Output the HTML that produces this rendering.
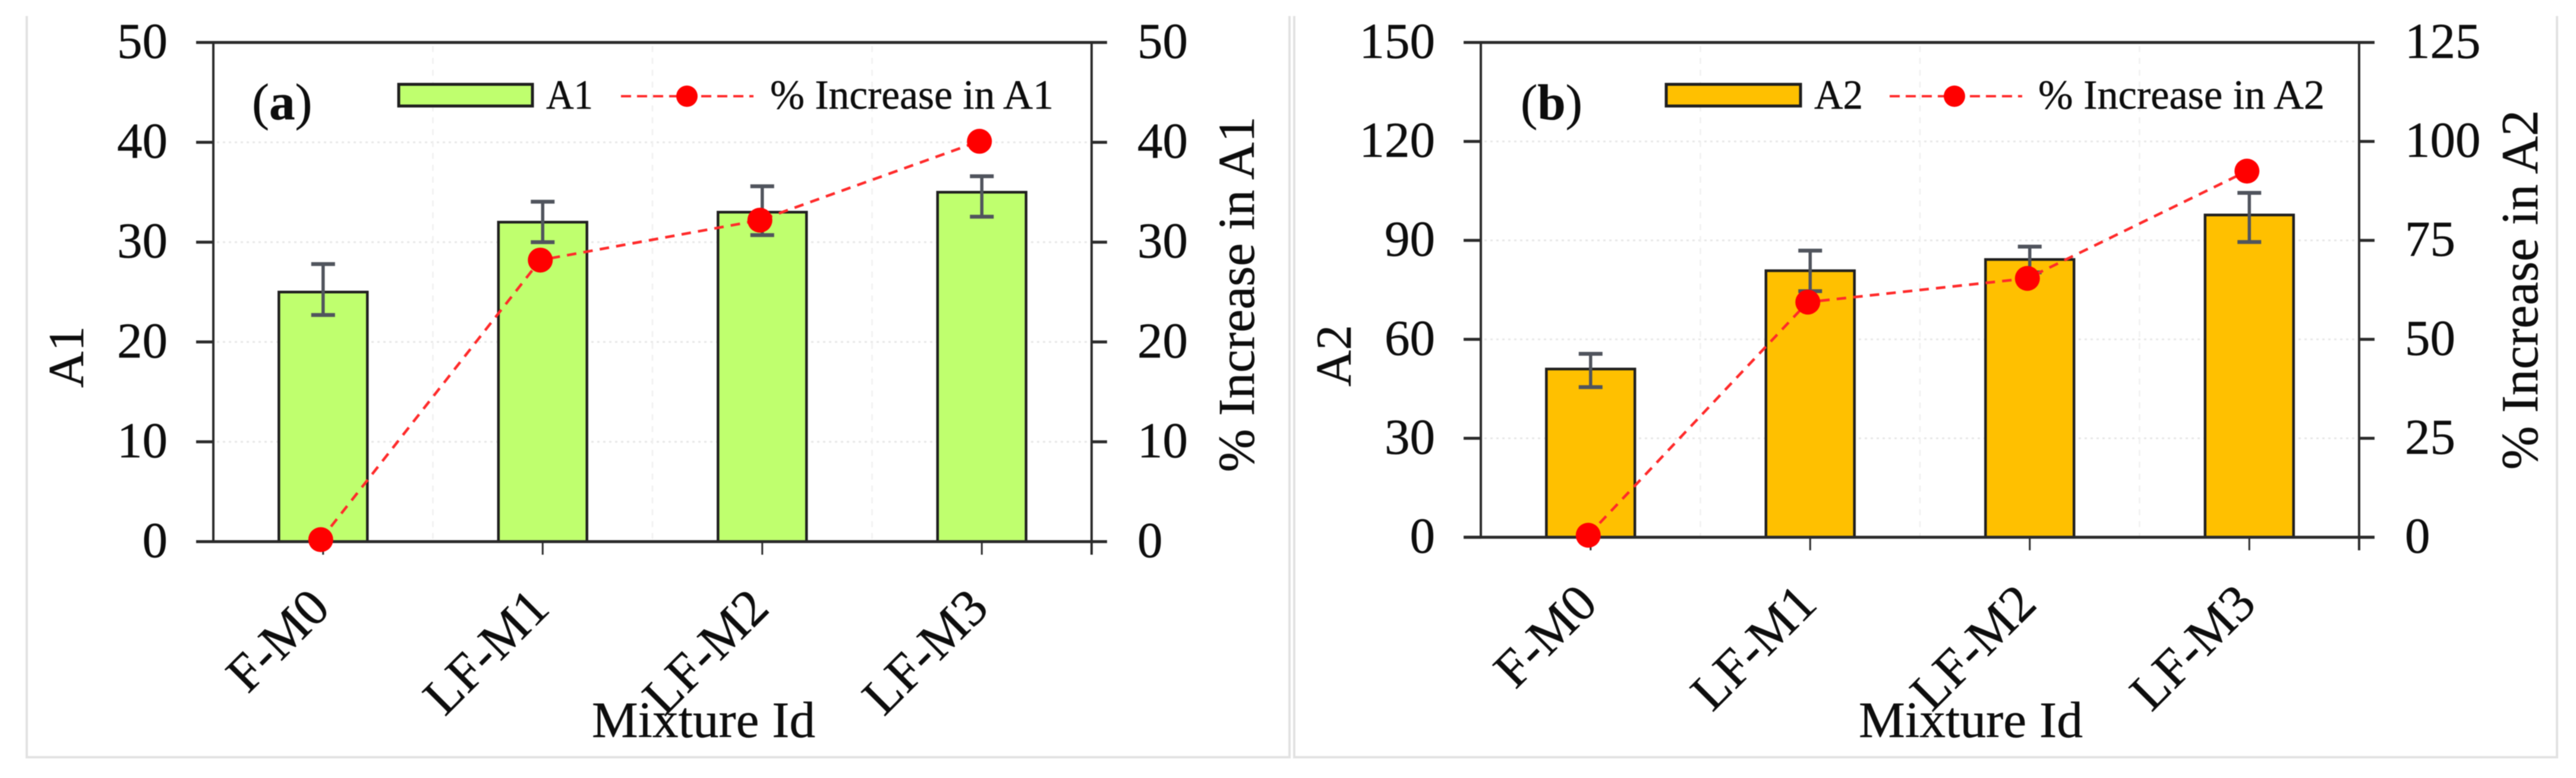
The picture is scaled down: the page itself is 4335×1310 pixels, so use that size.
<!DOCTYPE html>
<html lang="en">
<head>
<meta charset="utf-8">
<title>A1 and A2 by mixture id</title>
<style>
  html, body { margin: 0; padding: 0; background: #ffffff; width: 4335px; height: 1310px; overflow: hidden; }
  svg { display: block; filter: blur(0.9px); }
  text { font-family: "Liberation Serif", "Times New Roman", serif; fill: #0d0d0d; stroke: #0d0d0d; stroke-width: 0.5px; }
</style>
</head>
<body>
<svg id="figure" xmlns="http://www.w3.org/2000/svg" width="4335" height="1310" viewBox="0 0 4335 1310">
  <rect x="0" y="0" width="4335" height="1310" fill="#ffffff"/>
  <path d="M45 27V1275H2170V27" fill="none" stroke="#e2e2e2" stroke-width="4"/>
  <path d="M2178 27V1275H4303V27" fill="none" stroke="#e2e2e2" stroke-width="4"/>

  <g id="panel-a">
    <g id="panel-a-marks"></g>
    <text x="424" y="201" font-size="87">(<tspan font-weight="bold">a</tspan>)</text>
    <rect x="671" y="142" width="225" height="36.5" fill="#bfff6e" stroke="#1f1f1f" stroke-width="5"/>
    <text x="919" y="183" font-size="70" textLength="79" lengthAdjust="spacingAndGlyphs">A1</text>
    <line x1="1045" y1="162" x2="1268" y2="162" stroke="#ff2a2a" stroke-width="4" stroke-dasharray="17 10"/>
    <circle cx="1156" cy="162" r="18" fill="#ff0000"/>
    <text x="1296" y="183" font-size="70" textLength="477" lengthAdjust="spacingAndGlyphs">% Increase in A1</text>
    <text transform="translate(140 601) rotate(-90)" text-anchor="middle" font-size="85">A1</text>
    <text transform="translate(2110 495.5) rotate(-90)" text-anchor="middle" font-size="86.5" textLength="599" lengthAdjust="spacingAndGlyphs">% Increase in A1</text>
    <text x="1184" y="1241" text-anchor="middle" font-size="86" textLength="376" lengthAdjust="spacingAndGlyphs">Mixture Id</text>
  </g>

  <g id="panel-b">
    <g id="panel-b-marks"></g>
    <text x="2559" y="201" font-size="85">(<tspan font-weight="bold">b</tspan>)</text>
    <rect x="2804" y="142" width="226" height="36.5" fill="#ffc000" stroke="#1f1f1f" stroke-width="5"/>
    <text x="3053" y="183" font-size="70" textLength="82" lengthAdjust="spacingAndGlyphs">A2</text>
    <line x1="3180" y1="162" x2="3403" y2="162" stroke="#ff2a2a" stroke-width="4" stroke-dasharray="17 10"/>
    <circle cx="3289" cy="162" r="18" fill="#ff0000"/>
    <text x="3430" y="183" font-size="70" textLength="482" lengthAdjust="spacingAndGlyphs">% Increase in A2</text>
    <text transform="translate(2273 599) rotate(-90)" text-anchor="middle" font-size="85">A2</text>
    <text transform="translate(4270 488) rotate(-90)" text-anchor="middle" font-size="87.5" textLength="606" lengthAdjust="spacingAndGlyphs">% Increase in A2</text>
    <text x="3316.5" y="1241" text-anchor="middle" font-size="86" textLength="377" lengthAdjust="spacingAndGlyphs">Mixture Id</text>
  </g>
</svg>

<script>
// Shared categories
const categories = ['F-M0', 'LF-M1', 'LF-M2', 'LF-M3'];

// Panel (a)
const a1Values = [25.0, 32.0, 33.0, 35.0];
const a1ErrorUp = [2.8, 2.05, 2.6, 1.6];
const a1ErrorDown = [2.3, 2.0, 2.3, 2.45];
const a1Increase = [0.2, 28.2, 32.2, 40.1];
const a1LeftTicks = [0, 10, 20, 30, 40, 50];
const a1RightTicks = [0, 10, 20, 30, 40, 50];

// Panel (b)
const a2Values = [51, 80.8, 84.2, 97.7];
const a2ErrorUp = [4.6, 6.1, 3.9, 6.7];
const a2ErrorDown = [5.5, 6.2, 3.9, 8.2];
const a2Increase = [0.5, 59.4, 65.4, 92.5];
const a2LeftTicks = [0, 30, 60, 90, 120, 150];
const a2RightTicks = [0, 25, 50, 75, 100, 125];

const SVG_NS = 'http://www.w3.org/2000/svg';

function make(parent, tag, attrs, textContent) {
  const node = document.createElementNS(SVG_NS, tag);
  Object.keys(attrs).forEach(function (k) { node.setAttribute(k, attrs[k]); });
  if (textContent !== undefined) node.textContent = textContent;
  parent.appendChild(node);
  return node;
}

function drawPanel(root, opts) {
  const left = opts.left, right = opts.right, top = opts.top, bottom = opts.bottom;
  const plotH = bottom - top;
  const band = (right - left) / opts.categories.length;
  const barW = band * 0.403;
  const axisColor = '#2b2b2b';

  const xCenter = function (i) { return left + band * (i + 0.5); };
  const yLeft = function (v) {
    return bottom - (v - opts.leftTicks[0]) / (opts.leftTicks[opts.leftTicks.length - 1] - opts.leftTicks[0]) * plotH;
  };
  const yRight = function (v) {
    return bottom - (v - opts.rightTicks[0]) / (opts.rightTicks[opts.rightTicks.length - 1] - opts.rightTicks[0]) * plotH;
  };

  // gridlines
  opts.leftTicks.forEach(function (t) {
    if (t === opts.leftTicks[0] || t === opts.leftTicks[opts.leftTicks.length - 1]) return;
    const el = make(root, 'line', { x1: left + 6, x2: right - 4, y1: yLeft(t), y2: yLeft(t), stroke: '#e8e8e8', 'stroke-width': 3, 'stroke-dasharray': '4 6' });
    
    
  });
  for (let i = 1; i < opts.categories.length; i++) {
    const gx = left + band * i;
    const el = make(root, 'line', { x1: gx, x2: gx, y1: top + 6, y2: bottom, stroke: '#f0f0f0', 'stroke-width': 2.5, 'stroke-dasharray': '10 10' });
    
    
  }

  // bars
  opts.values.forEach(function (v, i) {
    const el = make(root, 'rect', { x: xCenter(i) - barW / 2, y: yLeft(v), width: barW, height: bottom - yLeft(v), fill: opts.barColor, stroke: '#1f1f1f', 'stroke-width': 4.5 });
    
    
  });

  // axes frame
  const axisTop = make(root, 'line', { x1: left - 29, x2: right + 26, y1: top, y2: top, stroke: axisColor, 'stroke-width': 5 });
  
  
  const axisBottom = make(root, 'line', { x1: left - 29, x2: right + 26, y1: bottom, y2: bottom, stroke: axisColor, 'stroke-width': 5 });
  
  
  const axisLeft = make(root, 'line', { x1: left, x2: left, y1: top, y2: bottom, stroke: axisColor, 'stroke-width': 4 });
  
  
  const axisRight = make(root, 'line', { x1: right, x2: right, y1: top, y2: bottom + 22, stroke: axisColor, 'stroke-width': 4 });
  
  

  // left ticks and labels
  opts.leftTicks.forEach(function (t) {
    const tick = make(root, 'line', { x1: left - 29, x2: left, y1: yLeft(t), y2: yLeft(t), stroke: axisColor, 'stroke-width': 5 });
    
    
    const label = make(root, 'text', { x: opts.leftLabelX, y: yLeft(t) + 26, 'text-anchor': 'end', 'font-size': 85 }, String(t));
    
    
  });

  // right ticks and labels
  opts.rightTicks.forEach(function (t) {
    const tick = make(root, 'line', { x1: right, x2: right + 26, y1: yRight(t), y2: yRight(t), stroke: axisColor, 'stroke-width': 5 });
    
    
    const label = make(root, 'text', { x: opts.rightLabelX, y: yRight(t) + 26, 'text-anchor': 'start', 'font-size': 85 }, String(t));
    
    
  });

  // x ticks and labels
  opts.categories.forEach(function (c, i) {
    const tick = make(root, 'line', { x1: xCenter(i), x2: xCenter(i), y1: bottom, y2: bottom + 22, stroke: axisColor, 'stroke-width': 3 });
    
    
    const label = make(root, 'text', {
      transform: 'translate(' + (xCenter(i) + 15) + ' ' + (bottom + 116) + ') rotate(-45)',
      'text-anchor': 'end',
      'font-size': 88
    }, c);
    
    
  });

  // error bars
  opts.values.forEach(function (v, i) {
    const cx = xCenter(i);
    const yHi = yLeft(v + opts.errorUp[i]);
    const yLo = yLeft(v - opts.errorDown[i]);
    const stem = make(root, 'line', { x1: cx, x2: cx, y1: yHi, y2: yLo, stroke: '#50545d', 'stroke-width': 5.5 });
    
    
    const capHi = make(root, 'line', { x1: cx - 20, x2: cx + 20, y1: yHi, y2: yHi, stroke: '#50545d', 'stroke-width': 6.5 });
    
    
    const capLo = make(root, 'line', { x1: cx - 20, x2: cx + 20, y1: yLo, y2: yLo, stroke: '#50545d', 'stroke-width': 6.5 });
    
    
  });

  // increase series
  const pts = opts.increase.map(function (v, i) {
    return (xCenter(i) - 4) + ',' + yRight(v);
  }).join(' ');
  const line = make(root, 'polyline', { points: pts, fill: 'none', stroke: '#ff2a2a', 'stroke-width': 4.5, 'stroke-dasharray': '16 12' });
  
  
  opts.increase.forEach(function (v, i) {
    const dot = make(root, 'circle', { cx: xCenter(i) - 4, cy: yRight(v), r: 21, fill: '#ff0000' });
    
    
  });
}

drawPanel(document.getElementById('panel-a-marks'), {
  left: 359, right: 1837, top: 71.5, bottom: 912,
  leftLabelX: 282, rightLabelX: 1914,
  barColor: '#bfff6e',
  categories: categories,
  values: a1Values,
  errorUp: a1ErrorUp,
  errorDown: a1ErrorDown,
  increase: a1Increase,
  leftTicks: a1LeftTicks,
  rightTicks: a1RightTicks
});

drawPanel(document.getElementById('panel-b-marks'), {
  left: 2492, right: 3970, top: 71.5, bottom: 904.6,
  leftLabelX: 2415, rightLabelX: 4047,
  barColor: '#ffc000',
  categories: categories,
  values: a2Values,
  errorUp: a2ErrorUp,
  errorDown: a2ErrorDown,
  increase: a2Increase,
  leftTicks: a2LeftTicks,
  rightTicks: a2RightTicks
});
</script>
</body>
</html>
